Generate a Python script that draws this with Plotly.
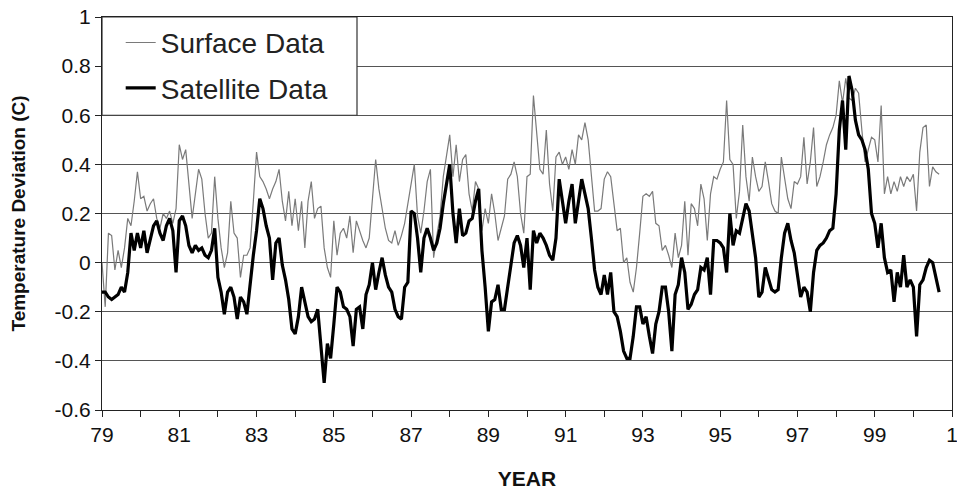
import plotly.graph_objects as go

# Monthly values, Jan 1979 onward (one row per year)
satellite_values = [
    -0.12, -0.12, -0.14, -0.15, -0.14, -0.13, -0.10, -0.12, -0.04, 0.12, 0.05, 0.12,   # 1979
    0.06, 0.13, 0.04, 0.10, 0.15, 0.17, 0.12, 0.09, 0.15, 0.18, 0.13, -0.04,           # 1980
    0.17, 0.19, 0.15, 0.07, 0.04, 0.07, 0.05, 0.06, 0.03, 0.02, 0.05, 0.14,            # 1981
    -0.06, -0.12, -0.21, -0.12, -0.10, -0.14, -0.23, -0.14, -0.16, -0.21, -0.08, 0.03,  # 1982
    0.13, 0.26, 0.22, 0.15, 0.10, -0.07, 0.08, 0.10, -0.01, -0.07, -0.15, -0.27,       # 1983
    -0.29, -0.22, -0.10, -0.16, -0.22, -0.24, -0.23, -0.19, -0.33, -0.49, -0.33, -0.39, # 1984
    -0.25, -0.10, -0.12, -0.18, -0.19, -0.22, -0.34, -0.19, -0.18, -0.27, -0.13, -0.09, # 1985
    0.00, -0.11, -0.04, 0.02, -0.05, -0.10, -0.12, -0.19, -0.22, -0.23, -0.10, -0.08,  # 1986
    0.21, 0.20, 0.10, -0.04, 0.10, 0.14, 0.10, 0.05, 0.08, 0.14, 0.24, 0.33,           # 1987
    0.40, 0.20, 0.08, 0.22, 0.11, 0.12, 0.17, 0.18, 0.25, 0.30, 0.05, -0.10,           # 1988
    -0.28, -0.16, -0.15, -0.09, -0.19, -0.19, -0.10, -0.02, 0.08, 0.11, 0.07, -0.02,   # 1989
    0.10, -0.11, 0.13, 0.08, 0.12, 0.10, 0.07, 0.03, 0.01, 0.10, 0.34, 0.25,           # 1990
    0.16, 0.25, 0.32, 0.16, 0.26, 0.34, 0.28, 0.22, 0.10, -0.03, -0.10, -0.13,         # 1991
    -0.05, -0.13, -0.04, -0.20, -0.22, -0.28, -0.36, -0.39, -0.39, -0.30, -0.18, -0.18, # 1992
    -0.25, -0.22, -0.30, -0.37, -0.25, -0.20, -0.10, -0.10, -0.20, -0.36, -0.13, -0.09, # 1993
    0.02, -0.04, -0.19, -0.17, -0.13, -0.11, -0.02, -0.03, 0.02, -0.13, 0.09, 0.09,    # 1994
    0.08, 0.06, -0.04, 0.20, 0.07, 0.13, 0.12, 0.18, 0.24, 0.21, 0.12, 0.02,           # 1995
    -0.14, -0.12, -0.02, -0.06, -0.11, -0.12, -0.11, 0.02, 0.12, 0.16, 0.09, 0.04,     # 1996
    -0.06, -0.14, -0.10, -0.12, -0.20, -0.04, 0.05, 0.07, 0.08, 0.10, 0.13, 0.14,      # 1997
    0.28, 0.54, 0.66, 0.46, 0.76, 0.70, 0.58, 0.52, 0.50, 0.46, 0.38, 0.20,            # 1998
    0.16, 0.06, 0.16, 0.02, -0.04, -0.03, -0.16, -0.04, -0.10, 0.03, -0.10, -0.07,     # 1999
    -0.10, -0.30, -0.09, -0.07, -0.02, 0.01, 0.00, -0.06, -0.12,                       # 2000
]

surface_values = [
    0.00, -0.18, 0.12, 0.11, -0.03, 0.05, -0.02, 0.06, 0.18, 0.15, 0.25, 0.37,   # 1979
    0.26, 0.27, 0.21, 0.24, 0.26, 0.18, 0.14, 0.20, 0.18, 0.21, 0.16, 0.22,      # 1980
    0.48, 0.42, 0.46, 0.31, 0.18, 0.28, 0.38, 0.34, 0.20, 0.10, 0.12, 0.35,      # 1981
    0.18, 0.06, -0.02, 0.04, 0.25, 0.12, 0.10, -0.06, 0.03, 0.03, 0.06, 0.25,    # 1982
    0.45, 0.35, 0.33, 0.30, 0.26, 0.30, 0.33, 0.38, 0.25, 0.17, 0.29, 0.15,      # 1983
    0.26, 0.13, 0.25, 0.06, 0.25, 0.33, 0.18, 0.22, 0.23, 0.06, -0.02, -0.06,    # 1984
    0.17, 0.03, 0.12, 0.14, 0.10, 0.19, 0.04, 0.17, 0.13, 0.09, 0.06, 0.10,      # 1985
    0.26, 0.42, 0.30, 0.22, 0.14, 0.09, 0.08, 0.13, 0.07, 0.11, 0.16, 0.24,      # 1986
    0.33, 0.40, 0.19, 0.12, 0.21, 0.33, 0.38, 0.02, 0.11, 0.19, 0.35, 0.44,      # 1987
    0.52, 0.35, 0.48, 0.33, 0.42, 0.44, 0.28, 0.21, 0.33, 0.30, 0.13, 0.22,      # 1988
    0.16, 0.28, 0.20, 0.09, 0.14, 0.19, 0.34, 0.36, 0.41, 0.35, 0.20, 0.12,      # 1989
    0.35, 0.36, 0.68, 0.52, 0.38, 0.36, 0.54, 0.32, 0.21, 0.43, 0.45, 0.40,      # 1990
    0.43, 0.38, 0.46, 0.40, 0.52, 0.50, 0.57, 0.50, 0.36, 0.21, 0.21, 0.22,      # 1991
    0.34, 0.37, 0.35, 0.23, 0.13, 0.14, 0.00, 0.02, -0.08, -0.12, -0.02, 0.12,   # 1992
    0.27, 0.28, 0.27, 0.29, 0.16, 0.15, 0.05, 0.07, 0.03, -0.02, 0.12, 0.02,     # 1993
    0.07, 0.25, 0.03, 0.24, 0.22, 0.15, 0.32, 0.26, 0.09, 0.28, 0.35, 0.34,      # 1994
    0.38, 0.41, 0.66, 0.42, 0.40, 0.18, 0.29, 0.56, 0.35, 0.25, 0.43, 0.35,      # 1995
    0.29, 0.31, 0.41, 0.33, 0.24, 0.21, 0.20, 0.43, 0.35, 0.26, 0.22, 0.33,      # 1996
    0.32, 0.35, 0.51, 0.32, 0.41, 0.55, 0.31, 0.35, 0.41, 0.48, 0.52, 0.55,      # 1997
    0.60, 0.74, 0.65, 0.75, 0.67, 0.66, 0.71, 0.69, 0.54, 0.41, 0.46, 0.51,      # 1998
    0.50, 0.41, 0.64, 0.28, 0.35, 0.28, 0.33, 0.29, 0.35, 0.31, 0.35, 0.33,      # 1999
    0.36, 0.21, 0.45, 0.55, 0.56, 0.31, 0.39, 0.37, 0.36,                        # 2000
]

start_year = 79  # two-digit year of the first month
x_tick_values = [79, 81, 83, 85, 87, 89, 91, 93, 95, 97, 99, 101]
x_tick_labels = ["79", "81", "83", "85", "87", "89", "91", "93", "95", "97", "99", "1"]
y_tick_values = [1.0, 0.8, 0.6, 0.4, 0.2, 0.0, -0.2, -0.4, -0.6]
y_tick_labels = ["1", "0.8", "0.6", "0.4", "0.2", "0", "-0.2", "-0.4", "-0.6"]

months_x = [start_year + i / 12 for i in range(len(satellite_values))]

FONT = "Liberation Sans, Arial, sans-serif"

fig = go.Figure()
fig.add_trace(go.Scatter(x=months_x, y=surface_values, mode="lines", name="Surface Data",
                         line=dict(color="#7a7a7a", width=1.2), legendgroup="a"))
fig.add_trace(go.Scatter(x=months_x, y=satellite_values, mode="lines", name="Satellite Data",
                         line=dict(color="#000000", width=3.2), legendgroup="b"))

# legend box (covers the grid lines behind the legend)
fig.add_shape(type="rect", xref="x", yref="y", x0=79, x1=85.6, y0=0.6, y1=1.0,
              fillcolor="white", line=dict(color="#333333", width=1.2), layer="between")

fig.update_layout(
    width=957, height=490,
    margin=dict(l=102, r=5, t=17, b=80),
    paper_bgcolor="white", plot_bgcolor="white",
    font=dict(family=FONT, color="#111111"),
    showlegend=True,
    legend=dict(x=0.022, y=0.998, xanchor="left", yanchor="top",
                bgcolor="rgba(0,0,0,0)", borderwidth=0,
                font=dict(size=28, family=FONT, color="#222222"),
                tracegroupgap=6),
    xaxis=dict(range=[79, 101], tickvals=x_tick_values, ticktext=x_tick_labels,
               ticks="outside", ticklen=6, tickcolor="#222", tickwidth=1,
               minor=dict(dtick=1, tick0=79, ticks="outside", ticklen=6, tickcolor="#222"),
               showline=True, linecolor="#222", linewidth=1.2, mirror=True,
               showgrid=False, zeroline=False, automargin=False,
               ticklabeloverflow="allow",
               tickfont=dict(size=21, family=FONT),
               title=dict(text="<b>YEAR</b>", font=dict(size=21, family=FONT), standoff=26)),
    yaxis=dict(range=[-0.6, 1.0], tickvals=y_tick_values, ticktext=y_tick_labels,
               ticks="outside", ticklen=6, tickcolor="#222",
               showline=True, linecolor="#222", linewidth=1.2, mirror=True,
               showgrid=True, gridcolor="#555555", gridwidth=1, zeroline=False,
               automargin=False, ticklabeloverflow="allow",
               tickfont=dict(size=21, family=FONT),
               title=dict(text="<b>Temperature Deviation (C)</b>", font=dict(size=19, family=FONT), standoff=23)),
)

# remove the default page margin so the figure fills the window exactly
fig.write_html("out.html", config={"displayModeBar": False},
               post_script="document.body.style.margin='0px';")
